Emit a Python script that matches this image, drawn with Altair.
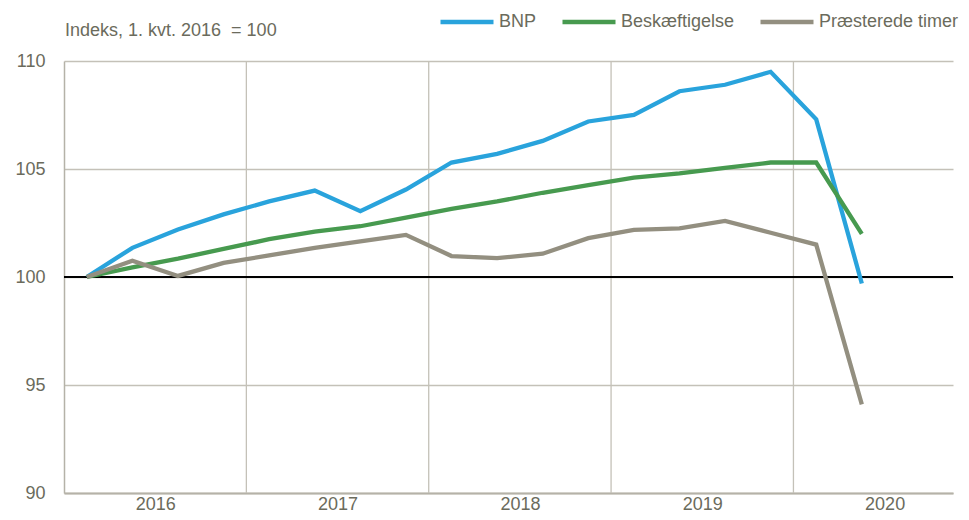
import altair as alt
import pandas as pd

quarters = ["2016K1","2016K2","2016K3","2016K4","2017K1","2017K2","2017K3","2017K4",
            "2018K1","2018K2","2018K3","2018K4","2019K1","2019K2","2019K3","2019K4",
            "2020K1","2020K2"]
bnp = [100.0,101.35,102.2,102.9,103.5,104.0,103.05,104.05,105.3,105.7,106.3,107.2,
       107.5,108.6,108.9,109.5,107.3,99.7]
beskaeftigelse = [100.0,100.45,100.85,101.3,101.75,102.1,102.35,102.75,103.15,103.5,
                  103.9,104.25,104.6,104.8,105.05,105.3,105.3,102.0]
timer = [100.0,100.75,100.05,100.65,101.0,101.35,101.65,101.95,100.97,100.87,101.08,
         101.8,102.18,102.25,102.6,102.05,101.5,94.1]
series_names = ["BNP", "Beskæftigelse", "Præsterede timer"]
series_colors = ["#29a3dc", "#479a4f", "#938f80"]
year_labels = ["2016", "2017", "2018", "2019", "2020"]
y_ticks = [90, 95, 100, 105, 110]
subtitle = ["Indeks, 1. kvt. 2016\u00a0 = 100"]

rows = []
for name, vals in zip(series_names, [bnp, beskaeftigelse, timer]):
    for i, (q, v) in enumerate(zip(quarters, vals)):
        rows.append({"serie": name, "kvartal": q, "pos": i + 0.5, "value": v})
df = pd.DataFrame(rows)

year_starts = pd.DataFrame({"pos": [4 * k for k in range(1, len(year_labels))]})
year_mid = [4 * k + 2 for k in range(len(year_labels))]
label_expr = " : ".join(
    [f"datum.value == {m} ? '{y}'" for m, y in zip(year_mid, year_labels)]
) + " : ''"

FONT = "Liberation Sans, Arial, sans-serif"
TXT = "#6b6b5c"
GRID = "#c4c1b8"
FS = 18

x_scale = alt.Scale(domain=[0, 19.5], nice=False, zero=False)
y_scale = alt.Scale(domain=[90, 110], nice=False, zero=False)

lines = alt.Chart(df).mark_line(strokeWidth=4.3, strokeJoin="miter").encode(
    x=alt.X("pos:Q", scale=x_scale,
            axis=alt.Axis(values=year_mid, labelExpr=label_expr, grid=False, ticks=False,
                          domainColor="#b5b2a8", domainWidth=2, labelFont=FONT,
                          labelFontSize=FS, labelColor=TXT, labelPadding=2, title=None)),
    y=alt.Y("value:Q", scale=y_scale,
            axis=alt.Axis(values=y_ticks, grid=True, gridColor=GRID, gridWidth=1.3,
                          ticks=False, domainColor="#b5b2a8", domainWidth=1.5,
                          labelFont=FONT, labelFontSize=FS, labelColor=TXT,
                          labelPadding=19, title=None)),
    color=alt.Color("serie:N",
                    scale=alt.Scale(domain=series_names, range=series_colors),
                    sort=series_names,
                    legend=alt.Legend(orient="none", direction="horizontal", title=None,
                                      legendX=374, legendY=-68,
                                      symbolType="stroke", symbolSize=2809,
                                      symbolStrokeWidth=4.5, labelOffset=3,
                                      columnPadding=16, labelFont=FONT, labelLimit=300,
                                      labelFontSize=FS, labelColor=TXT)),
    order=alt.Order("pos:Q"),
)

vgrid = alt.Chart(year_starts).mark_rule(color=GRID, strokeWidth=1.3).encode(
    x=alt.X("pos:Q", scale=x_scale)
)

base_line = alt.Chart(pd.DataFrame({"v": [100]})).mark_rule(color="black", strokeWidth=2).encode(
    y=alt.Y("v:Q", scale=y_scale)
)

title_txt = alt.Chart(pd.DataFrame({"t": subtitle})).mark_text(
    align="left", baseline="alphabetic", font=FONT, fontSize=FS, color=TXT
).encode(x=alt.value(1), y=alt.value(-25), text="t:N")

chart = alt.layer(vgrid, base_line, lines, title_txt).properties(
    width=889, height=432,
    padding={"left": 56, "top": 53, "right": 8, "bottom": 19},
    autosize=alt.AutoSizeParams(type="none"),
).configure_view(stroke=None)

chart.save("out.html", embed_options={"renderer": "svg", "actions": False})
